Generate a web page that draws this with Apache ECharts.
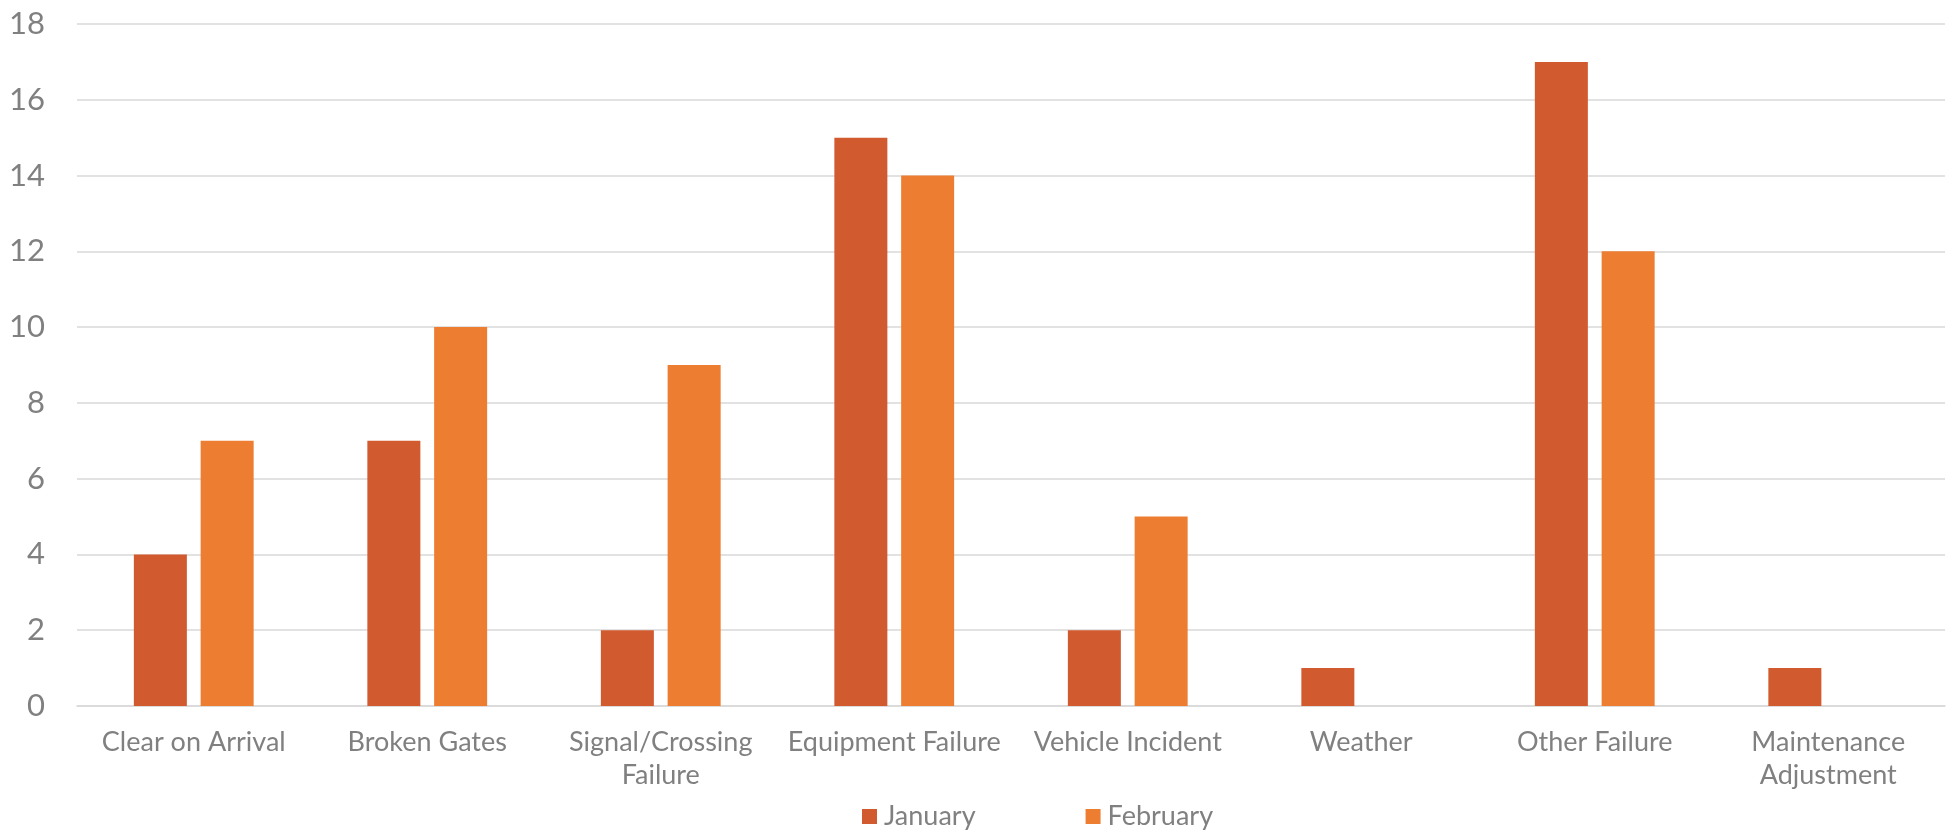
<!DOCTYPE html>
<html>
<head>
<meta charset="utf-8">
<script src="https://cdn.jsdelivr.net/npm/echarts@6/dist/echarts.min.js"></script>
<style>
html,body{margin:0;padding:0;background:#fff;}
#chart{width:1954px;height:830px;}
</style>
</head>
<body>
<div id="chart"></div>
<script>
const categories = ['Clear on Arrival', 'Broken Gates', 'Signal/Crossing Failure', 'Equipment Failure', 'Vehicle Incident', 'Weather', 'Other Failure', 'Maintenance Adjustment'];
const tickLabels = ['Clear on Arrival', 'Broken Gates', 'Signal/Crossing\nFailure', 'Equipment Failure', 'Vehicle Incident', 'Weather', 'Other Failure', 'Maintenance\nAdjustment'];
const january = [4, 7, 2, 15, 2, 1, 17, 1];
const february = [7, 10, 9, 14, 5, null, 12, null];
const seriesNames = ['January', 'February'];

const FONT = 'Lato, "Noto Sans", sans-serif';
const chart = echarts.init(document.getElementById('chart'));
chart.setOption({
  animation: false,
  textStyle: { fontFamily: FONT },
  grid: { left: 77, right: 9, top: 24, bottom: 124, containLabel: false },
  legend: {
    data: seriesNames,
    left: 857,
    top: 798,
    itemWidth: 15,
    itemHeight: 15,
    itemGap: 110,
    icon: 'rect',
    textStyle: { fontSize: 27, color: '#808080', fontFamily: FONT, padding: [0, 0, 0, 2] }
  },
  xAxis: {
    type: 'category',
    data: categories,
    axisLine: { show: true, lineStyle: { color: '#d9d9d9', width: 1.5 } },
    axisTick: { show: false },
    axisLabel: {
      interval: 0,
      margin: 20,
      fontSize: 27,
      lineHeight: 33,
      color: '#808080',
      fontFamily: FONT,
      formatter: function (v, i) { return tickLabels[i]; }
    }
  },
  yAxis: {
    type: 'value',
    min: 0,
    max: 18,
    interval: 2,
    axisLine: { show: false },
    axisTick: { show: false },
    splitLine: { lineStyle: { color: '#d9d9d9', width: 1.5 } },
    axisLabel: { fontSize: 31, color: '#808080', margin: 32, fontFamily: FONT }
  },
  series: [
    { name: seriesNames[0], type: 'bar', data: january, barWidth: '22.7%', barGap: '26%', itemStyle: { color: '#D15A2E' } },
    { name: seriesNames[1], type: 'bar', data: february, barWidth: '22.7%', barGap: '26%', itemStyle: { color: '#ED7D31' } }
  ]
});
</script>
</body>
</html>
